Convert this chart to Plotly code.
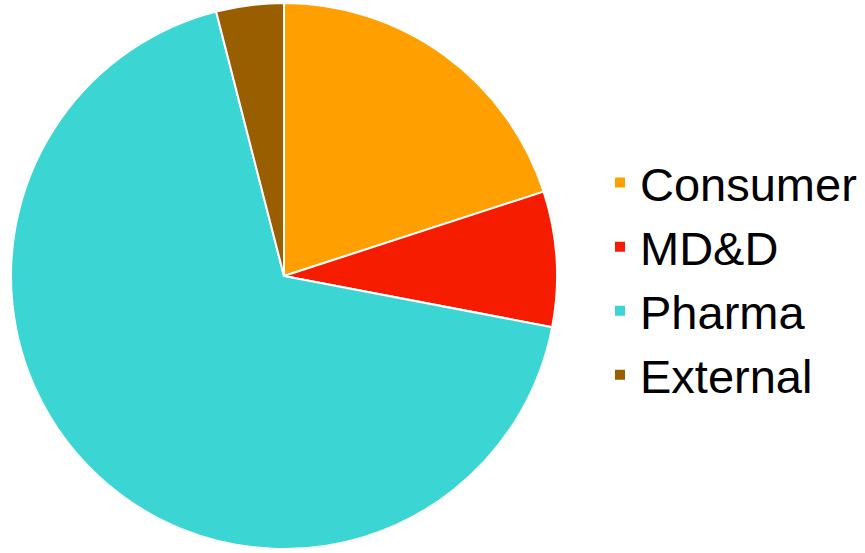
import plotly.graph_objects as go

labels = ["Consumer", "MD&D", "Pharma", "External"]
values = [20, 8, 68, 4]
colors = ["#FF9F00", "#F51C00", "#3BD6D4", "#985E00"]

fig = go.Figure(go.Pie(
    labels=labels,
    values=values,
    sort=False,
    direction="clockwise",
    rotation=0,
    textinfo="none",
    hoverinfo="label+percent",
    marker=dict(colors=colors, line=dict(color="white", width=2)),
    domain=dict(x=[11/865, 557/865], y=[4/553, 550/553]),
))

fig.update_layout(
    width=865, height=553,
    margin=dict(l=0, r=0, t=0, b=0),
    paper_bgcolor="white",
    showlegend=True,
    legend=dict(
        x=600/865, xanchor="left",
        y=(553-279)/553, yanchor="middle",
        font=dict(family="Liberation Sans, Arial, sans-serif", size=47, color="black"),
        bgcolor="rgba(0,0,0,0)",
    ),
)

fig.write_html("out.html")
